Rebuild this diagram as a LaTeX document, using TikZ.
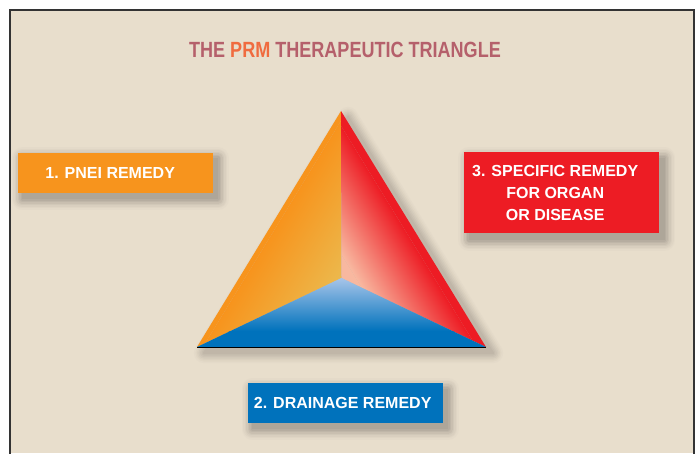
\documentclass[tikz,border=0pt]{standalone}
\usepackage{fontspec}
\setmainfont{Liberation Sans}
\newfontfamily\titlefont[FakeStretch=0.82]{Liberation Sans}
\definecolor{bg}{HTML}{E8DECC}
\definecolor{pneiorange}{HTML}{F7941D}
\definecolor{specred}{HTML}{ED1C24}
\definecolor{drainblue}{HTML}{0072BC}
\definecolor{titlemauve}{HTML}{B5606B}
\definecolor{prmorange}{HTML}{F06B3F}
\definecolor{faceyellow}{HTML}{ECB84C}
\definecolor{facepale}{HTML}{F8B8A0}
\definecolor{facelightblue}{HTML}{AAC6EA}
\definecolor{baseline}{HTML}{A9BBD0}
\definecolor{boxshadowdark}{HTML}{A9A195}
\definecolor{trishadowdark}{HTML}{B9B0A2}
\pgfdeclarelayer{backlayer}
\pgfdeclarelayer{shadelayer}
\pgfsetlayers{backlayer,shadelayer,main}
\newcommand\remedyshadow[1]{%
  \begin{pgfonlayer}{shadelayer}
  \foreach \w/\p in {22/6,19/14,16/24,13/36,10/50,7/65,4/80,1/92}
    \filldraw[line join=round, line width=\w pt, draw=boxshadowdark!\p!bg, fill=boxshadowdark!\p!bg]
      ([shift={(5,-6)}]#1.south west) rectangle ([shift={(5,-6)}]#1.north east);
  \end{pgfonlayer}}
\begin{document}
\begin{tikzpicture}[x=1pt,y=1pt,
  remedybox/.style={fill=#1, minimum width=195pt, inner sep=0pt},
  boxtext/.style={text=white, font=\bfseries\fontsize{16}{22}\selectfont, align=center, inner sep=0pt},
  titletext/.style={font=\titlefont\bfseries\fontsize{22}{26}\selectfont, text=titlemauve}
  ]
\useasboundingbox (0,0) rectangle (698,453);
\begin{pgfonlayer}{backlayer}
\fill[white] (0,0) rectangle (698,453);
\fill[bg] (10,0) rectangle (694,443);
\end{pgfonlayer}
\draw[black!80, line width=1.3pt] (10,-2) -- (10,443) -- (694,443) -- (694,-2);

\node[titletext] (title) at (345,403) {THE \textcolor{prmorange}{PRM} THERAPEUTIC TRIANGLE};

% triangle corners
\coordinate (A) at (341,342);
\coordinate (BL) at (197,106);
\coordinate (BR) at (486,106);
\coordinate (C) at (341.5,175);

% soft shadow of the triangle
\begin{pgfonlayer}{shadelayer}
\foreach \w/\p in {20/8,17/18,14/30,11/44,8/58,5/72,2/86}
  \filldraw[line join=round, line width=\w pt, draw=trishadowdark!\p!bg, fill=trishadowdark!\p!bg]
    ([shift={(7,-6)}]A) -- ([shift={(7,-6)}]BR) -- ([shift={(7,-6)}]BL) -- cycle;
\end{pgfonlayer}

% left face
\begin{scope}
\clip (A) -- (C) -- (BL) -- cycle;
\begin{scope}[transform canvas={shift={(197,106)}, rotate=-31.4}]
\fill[pneiorange] (-50,-50) rectangle (5,330);
\shade[left color=pneiorange, right color=faceyellow] (5,-50) rectangle (85,330);
\fill[faceyellow] (85,-50) rectangle (150,330);
\end{scope}
\end{scope}

% right face
\begin{scope}
\clip (A) -- (BR) -- (C) -- cycle;
\begin{scope}[transform canvas={shift={(486,106)}, rotate=211.5}]
\fill[specred] (-50,-330) rectangle (8,50);
\shade[left color=specred, right color=facepale] (8,-330) rectangle (75,50);
\fill[facepale] (75,-330) rectangle (150,50);
\end{scope}
\end{scope}

% bottom face
\begin{scope}
\clip (BL) -- (C) -- (BR) -- cycle;
\fill[drainblue] (190,100) rectangle (490,122);
\shade[top color=facelightblue, bottom color=drainblue] (190,122) rectangle (490,176);
\end{scope}
\draw[baseline, line width=0.6pt] (BL) -- (BR);

% remedy boxes
\node[remedybox=pneiorange, minimum height=40pt] (pnei) at (115.2,280.3) {};
\node[boxtext] (pneitext) at ([xshift=-5pt]pnei.center) {1. PNEI REMEDY};
\remedyshadow{pnei}

\node[remedybox=specred, minimum height=81pt] (specific) at (561.7,260.2) {};
\node[boxtext] (specifictext) at ([xshift=-6.5pt]specific.center) {3. SPECIFIC REMEDY\\FOR ORGAN\\OR DISEASE};
\remedyshadow{specific}

\node[remedybox=drainblue, minimum height=39.4pt] (drain) at (345.2,50) {};
\node[boxtext] (draintext) at ([xshift=-2.5pt]drain.center) {2. DRAINAGE REMEDY};
\remedyshadow{drain}
\end{tikzpicture}
\end{document}
